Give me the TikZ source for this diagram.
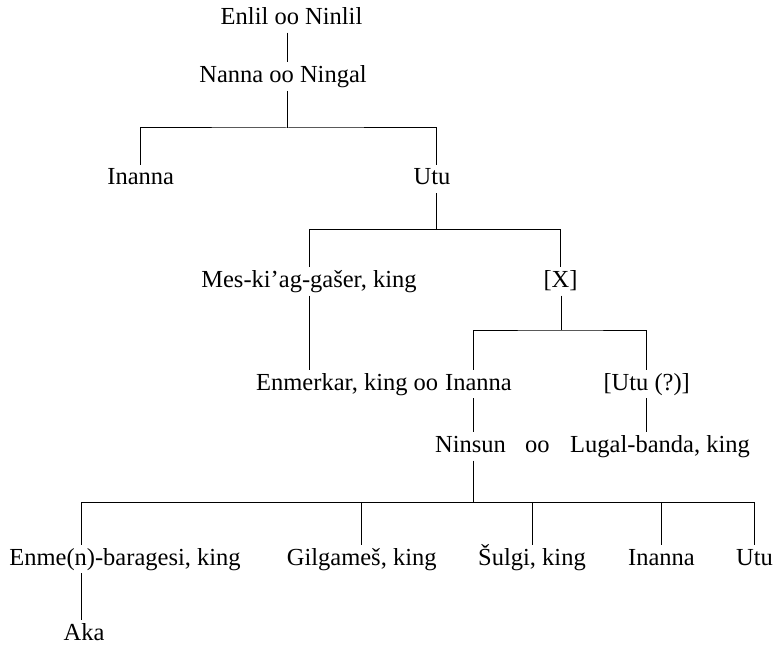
\documentclass[tikz,border=0pt]{standalone}
\usepackage{fontspec}
\setmainfont{Liberation Serif}
\begin{document}
\begin{tikzpicture}[x=1bp,y=-1bp,
  lbl/.style={font=\fontsize{24.5bp}{29bp}\selectfont, inner xsep=0pt, inner ysep=0pt,
              text height=20bp, text depth=8bp, anchor=base},
  link/.style={line width=1bp, draw=black}]
\useasboundingbox (0,0) rectangle (774,645);
% nodes
\node[lbl] (enlil) at (291.5,24.5) {Enlil oo Ninlil};
\node[lbl] (nanna) at (283,82.7) {Nanna oo Ningal};
\node[lbl] (inannaA) at (140.7,185) {Inanna};
\node[lbl] (utuA) at (432,185) {Utu};
\node[lbl] (mes) at (309,287.3) {Mes-ki’ag-gašer, king};
\node[lbl] (xx) at (560.5,287.3) {[X]};
\node[lbl, anchor=base east] (inannaB) at (512,390) {Inanna};
\node[lbl, anchor=base east] (enmerkar) at ([xshift=-6.5bp]inannaB.base west) {Enmerkar, king oo};
\node[lbl] (utuQ) at (646.7,390) {[Utu (?)]};
\node[lbl, anchor=base west] (ninsun) at (435,452.5) {Ninsun};
\node[lbl, anchor=base west] (oo) at (525,452.5) {oo};
\node[lbl, anchor=base east] (lugal) at (750,452.5) {Lugal-banda, king};
\node[lbl] (enme) at (125,565) {Enme(n)-baragesi, king};
\node[lbl] (gilg) at (361.7,565) {Gilgameš, king};
\node[lbl] (sulgi) at (532,565) {Šulgi, king};
\node[lbl] (inannaC) at (661.5,565) {Inanna};
\node[lbl] (utuC) at (754.5,565) {Utu};
\node[lbl] (aka) at (84,640) {Aka};
% junctions
\coordinate (j1) at (287,128);
\coordinate (j2) at (436,229.3);
\coordinate (j3) at (561,330);
\coordinate (j4) at (473.5,502.7);
\coordinate (j5) at (81.4,502.7);
% connectors
\draw[link] (enlil.south -| j1) -- (nanna.north -| j1);
\draw[link] (nanna.south -| j1) -- (j1);
\draw[link] (inannaA.north) |- (j1) -| (j2 |- utuA.north);
\draw[link] (j2 |- utuA.south) -- (j2);
\draw[link] (mes.north) |- (j2) -| (xx.north);
\draw[link] (mes.south) -- (mes.south |- enmerkar.north);
\draw[link] (j3 |- xx.south) -- (j3);
\draw[link] (j4 |- inannaB.north) |- (j3) -| (utuQ.north);
\draw[link] (j4 |- inannaB.south) -- (j4 |- ninsun.north);
\draw[link] (utuQ.south) -- (utuQ.south |- lugal.north);
\draw[link] (j4 |- ninsun.south) -- (j4);
\draw[link] (j5 |- enme.north) -- (j5) -- (j5 -| utuC.north) -- (utuC.north);
\draw[link] (gilg.north |- j5) -- (gilg.north);
\draw[link] (sulgi.north |- j5) -- (sulgi.north);
\draw[link] (inannaC.north |- j5) -- (inannaC.north);
\draw[link] (j5 |- enme.south) -- (j5 |- aka.north);
\end{tikzpicture}
\end{document}
